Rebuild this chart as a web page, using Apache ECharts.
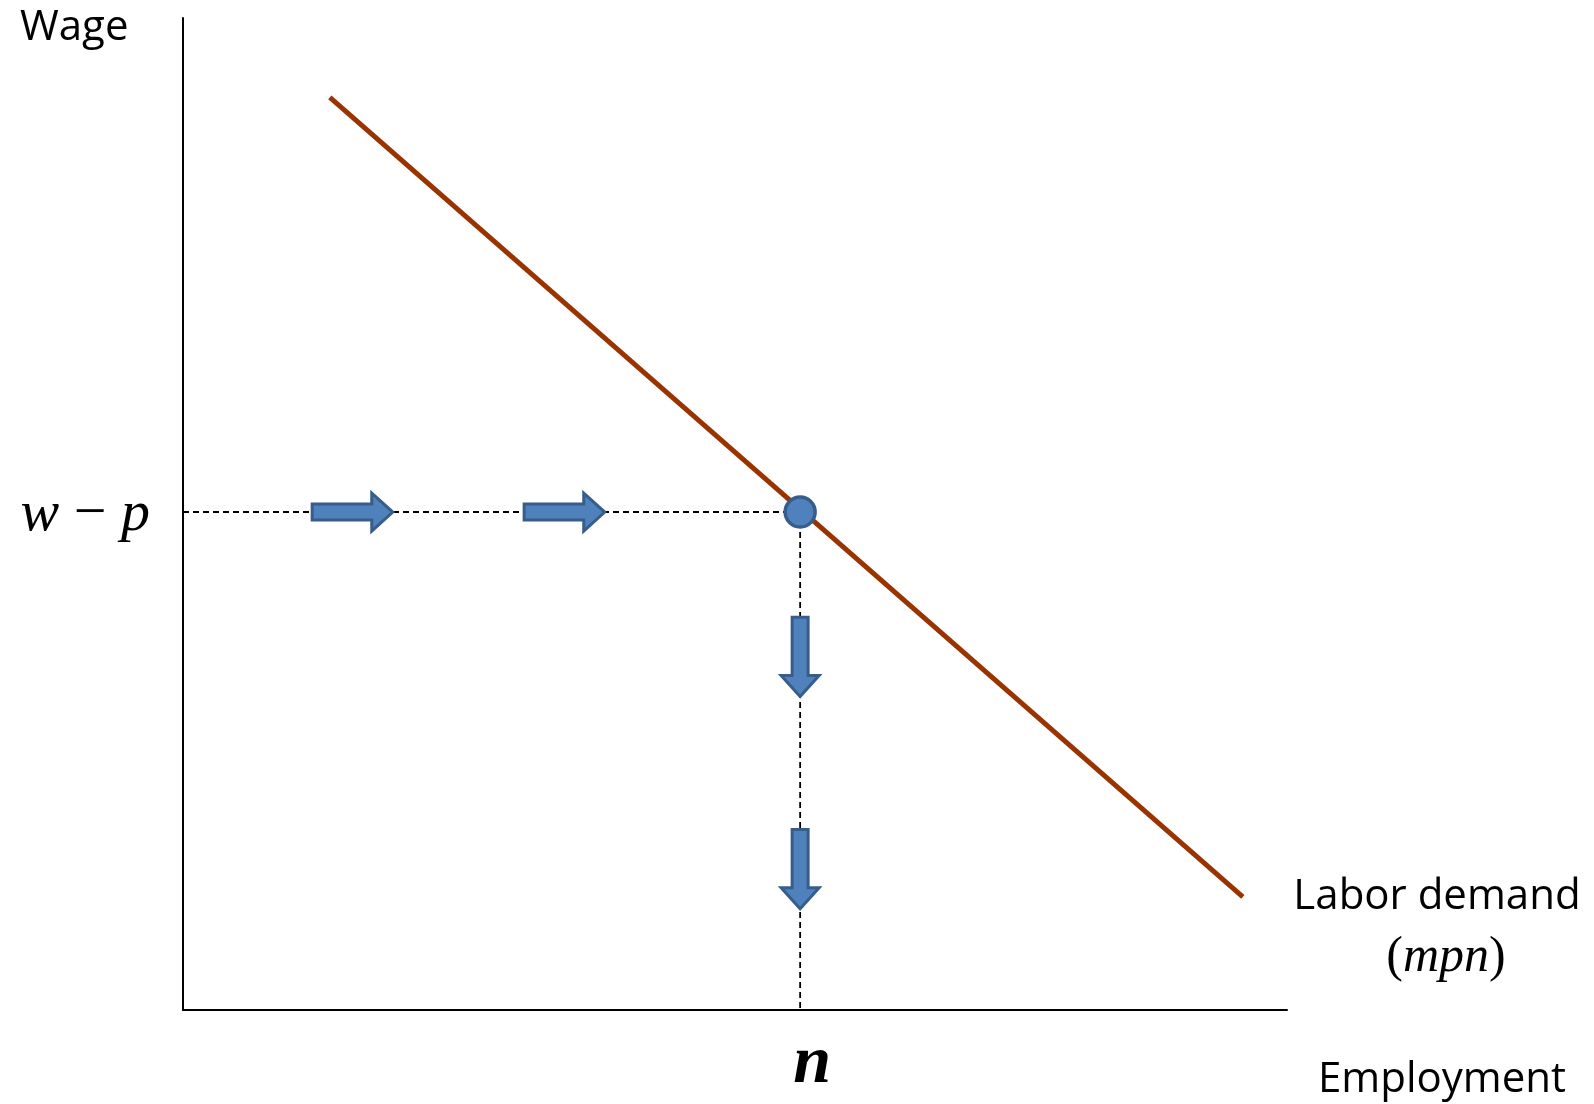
<!DOCTYPE html>
<html>
<head>
<meta charset="utf-8">
<script src="https://cdn.jsdelivr.net/npm/echarts@6/dist/echarts.min.js"></script>
<style>html,body{margin:0;padding:0;background:#fff}#c{width:1594px;height:1104px}</style>
</head>
<body>
<div id="c"></div>
<script>
// ---- data ----
const xRange = [0, 100];
const yRange = [0, 100];
const demandX = [13.3, 96.0];
const demandY = [92.0, 11.4];
const eqX = 55.9;
const eqY = 50.2;
const rightArrowX0 = [11.7, 30.9];
const rightArrowX1 = [19.0, 38.2];
const downArrowY0 = [39.6, 18.2];
const downArrowY1 = [31.6, 10.2];
const yTickLabel = ['w', '−', 'p'];
const xTickLabel = 'n';
const yAxisName = 'Wage';
const xAxisName = 'Employment';
const curveName = 'Labor demand';
const curveSub = 'mpn';

const SERIF = '"Liberation Serif", "Times New Roman", Times, serif';

const demandData = demandX.map((x, i) => [x, demandY[i]]);
const arrowData = [];
rightArrowX0.forEach((x, i) => arrowData.push([x, eqY, rightArrowX1[i], eqY]));
downArrowY0.forEach((y, i) => arrowData.push([eqX, y, eqX, downArrowY1[i]]));

function renderArrow(params, api) {
  const s = api.coord([api.value(0), api.value(1)]);
  const e = api.coord([api.value(2), api.value(3)]);
  const dx = e[0] - s[0], dy = e[1] - s[1];
  const L = Math.hypot(dx, dy);
  const ux = dx / L, uy = dy / L, nx = -uy, ny = ux;
  const sw = 8, hw = 19, hl = 21;
  const b = [e[0] - ux * hl, e[1] - uy * hl];
  const pts = [
    [s[0] + nx * sw, s[1] + ny * sw],
    [b[0] + nx * sw, b[1] + ny * sw],
    [b[0] + nx * hw, b[1] + ny * hw],
    [e[0], e[1]],
    [b[0] - nx * hw, b[1] - ny * hw],
    [b[0] - nx * sw, b[1] - ny * sw],
    [s[0] - nx * sw, s[1] - ny * sw]
  ];
  return {
    type: 'polygon',
    shape: { points: pts },
    style: { fill: '#4F81BD', stroke: '#385D8A', lineWidth: 3, lineJoin: 'miter' }
  };
}

const chart = echarts.init(document.getElementById('c'), null, { renderer: 'canvas' });
chart.setOption({
  animation: false,
  backgroundColor: '#fff',
  grid: { left: 183, top: 18, right: 307, bottom: 94 },
  xAxis: {
    type: 'value', min: xRange[0], max: xRange[1],
    axisLine: { show: true, onZero: false, lineStyle: { color: '#000', width: 2 } },
    axisTick: { show: false },
    splitLine: { show: false },
    axisLabel: {
      customValues: [eqX],
      margin: 20,
      formatter: () => '{n|' + xTickLabel + '}',
      rich: { n: { fontFamily: SERIF, fontStyle: 'italic', fontWeight: 'bold', fontSize: 68, lineHeight: 68, color: '#000', padding: [0, 0, 0, 24] } }
    }
  },
  yAxis: {
    type: 'value', min: yRange[0], max: yRange[1],
    axisLine: { show: true, onZero: false, lineStyle: { color: '#000', width: 2 } },
    axisTick: { show: false },
    splitLine: { show: false },
    axisLabel: {
      customValues: [eqY],
      margin: 33,
      formatter: () => '{i|' + yTickLabel[0] + '}{m| ' + yTickLabel[1] + ' }{i|' + yTickLabel[2] + '}',
      rich: {
        i: { fontFamily: SERIF, fontStyle: 'italic', fontSize: 58, lineHeight: 58, color: '#000', padding: [6, 0, 0, 0] },
        m: { fontFamily: SERIF, fontSize: 58, lineHeight: 58, color: '#000', padding: [6, 0, 0, 0] }
      }
    }
  },
  series: [
    {
      type: 'line', data: [[xRange[0], eqY], [eqX, eqY]], symbol: 'none', silent: true,
      lineStyle: { color: '#000', width: 1.8, type: [6, 4] }, z: 1
    },
    {
      type: 'line', data: [[eqX, eqY], [eqX, yRange[0]]], symbol: 'none', silent: true,
      lineStyle: { color: '#000', width: 1.8, type: [6, 4] }, z: 1
    },
    {
      type: 'line', data: demandData, symbol: 'none', silent: true,
      lineStyle: { color: '#993300', width: 5 }, z: 2
    },
    {
      type: 'custom', data: arrowData, renderItem: renderArrow, silent: true, z: 3
    },
    {
      type: 'scatter', data: [[eqX, eqY]], symbol: 'circle', symbolSize: 30, silent: true,
      itemStyle: { color: '#4F81BD', borderColor: '#385D8A', borderWidth: 3.5, opacity: 1 }, z: 4
    }
  ],
  graphic: [
    { type: 'text', x: 20, y: 28, style: { text: yAxisName, font: '42px "Open Sans"', fill: '#000', align: 'left', verticalAlign: 'middle' } },
    { type: 'text', x: 1437, y: 897, style: { text: curveName, font: '42px "Open Sans"', fill: '#000', align: 'center', verticalAlign: 'middle' } },
    { type: 'text', x: 1446, y: 958, style: {
        text: '{p|(}{i|' + curveSub + '}{p|)}', align: 'center', verticalAlign: 'middle',
        rich: {
          p: { fontFamily: SERIF, fontSize: 50, fill: '#000' },
          i: { fontFamily: SERIF, fontStyle: 'italic', fontSize: 50, fill: '#000' }
        } } },
    { type: 'text', x: 1442, y: 1080, style: { text: xAxisName, font: '42px "Open Sans"', fill: '#000', align: 'center', verticalAlign: 'middle' } }
  ]
});
</script>
</body>
</html>
